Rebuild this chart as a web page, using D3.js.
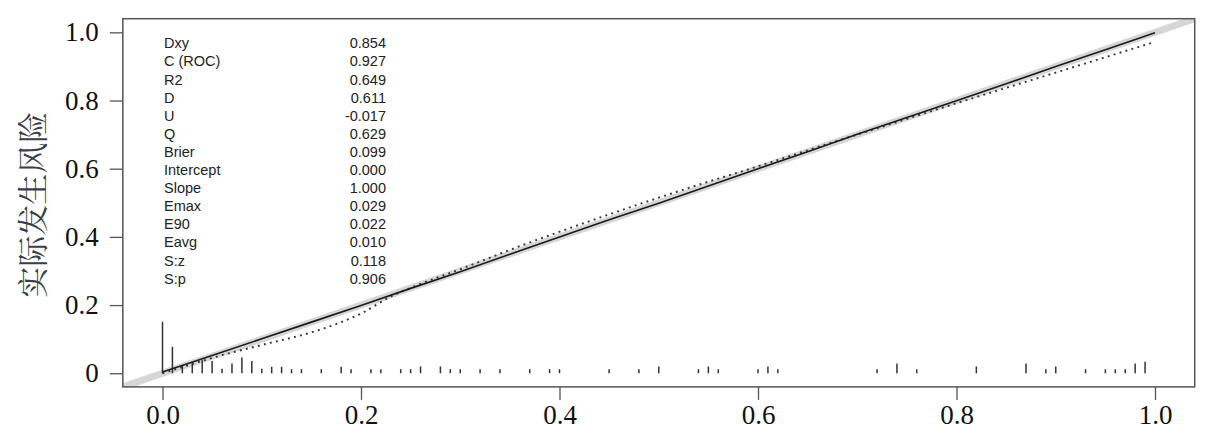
<!DOCTYPE html>
<html><head><meta charset="utf-8">
<script src="https://cdn.jsdelivr.net/npm/d3@7"></script>
<style>html,body{margin:0;padding:0;background:#fff;}</style>
</head><body>
<svg id="chart" width="1211" height="448"></svg>
<script>
// ---- data ----
const xTicks = [0, 0.2, 0.4, 0.6, 0.8, 1.0];
const xTickLabels = ["0.0", "0.2", "0.4", "0.6", "0.8", "1.0"];
const yTicks = [0, 0.2, 0.4, 0.6, 0.8, 1.0];
const yTickLabels = ["0", "0.2", "0.4", "0.6", "0.8", "1.0"];
const yLabel = "实际发生风险";

const idealX = [-0.04, 1.04];
const idealY = [-0.04, 1.04];

const biasX = [0, 0.05, 0.1, 0.15, 0.2, 0.25, 0.3, 0.35, 0.4, 0.45, 0.5, 0.55, 0.6, 0.65, 0.7, 0.75, 0.8, 0.85, 0.9, 0.95, 1.0];
const biasY = [0.004, 0.052, 0.101, 0.150, 0.199, 0.249, 0.298, 0.349, 0.400, 0.450, 0.499, 0.549, 0.600, 0.650, 0.701, 0.750, 0.799, 0.849, 0.900, 0.949, 0.999];

const apparentX = [0, 0.02, 0.05, 0.1, 0.15, 0.18, 0.2, 0.23, 0.26, 0.3, 0.35, 0.4, 0.45, 0.5, 0.55, 0.6, 0.65, 0.7, 0.75, 0.8, 0.85, 0.9, 0.95, 1.0];
const apparentY = [0, 0.018, 0.045, 0.083, 0.12, 0.15, 0.175, 0.225, 0.262, 0.305, 0.362, 0.415, 0.466, 0.515, 0.562, 0.607, 0.654, 0.700, 0.746, 0.792, 0.837, 0.882, 0.927, 0.972];

const rugX = [0.00, 0.01, 0.02, 0.03, 0.04, 0.05, 0.06, 0.07, 0.08, 0.09, 0.10, 0.11, 0.12, 0.13, 0.14, 0.16, 0.18, 0.19, 0.21, 0.22, 0.24, 0.25, 0.26, 0.28, 0.29, 0.30, 0.32, 0.34, 0.37, 0.39, 0.40, 0.45, 0.48, 0.50, 0.54, 0.55, 0.56, 0.60, 0.61, 0.62, 0.72, 0.74, 0.76, 0.82, 0.87, 0.89, 0.90, 0.93, 0.95, 0.96, 0.97, 0.98, 0.99];
const rugH = [0.151, 0.078, 0.024, 0.034, 0.039, 0.036, 0.013, 0.029, 0.046, 0.036, 0.013, 0.019, 0.019, 0.012, 0.012, 0.012, 0.019, 0.012, 0.012, 0.012, 0.012, 0.012, 0.020, 0.020, 0.012, 0.012, 0.012, 0.012, 0.012, 0.012, 0.012, 0.012, 0.012, 0.020, 0.012, 0.020, 0.012, 0.012, 0.020, 0.012, 0.012, 0.029, 0.012, 0.020, 0.029, 0.012, 0.020, 0.012, 0.012, 0.012, 0.012, 0.029, 0.034];

const statNames = ["Dxy", "C (ROC)", "R2", "D", "U", "Q", "Brier", "Intercept", "Slope", "Emax", "E90", "Eavg", "S:z", "S:p"];
const statValues = ["0.854", "0.927", "0.649", "0.611", "-0.017", "0.629", "0.099", "0.000", "1.000", "0.029", "0.022", "0.010", "0.118", "0.906"];

// ---- drawing ----
(function () {
const svg = d3.select("#chart");
const pl = 122.8, pr = 1194.7, pt = 18.7, pb = 386.9;
const x = d3.scaleLinear().domain([-0.04, 1.04]).range([pl, pr]);
const y = d3.scaleLinear().domain([-0.04, 1.04]).range([pb, pt]);

svg.append("defs").append("clipPath").attr("id", "clip")
  .append("rect").attr("x", pl).attr("y", pt).attr("width", pr - pl).attr("height", pb - pt);

const plot = svg.append("g").attr("clip-path", "url(#clip)");

// ideal line
plot.append("line")
  .attr("x1", x(idealX[0])).attr("y1", y(idealY[0]))
  .attr("x2", x(idealX[1])).attr("y2", y(idealY[1]))
  .attr("stroke", "#d6d6d6").attr("stroke-width", 7);

// rug / histogram spikes
plot.selectAll("line.rug").data(rugX).enter().append("line")
  .attr("class", "rug")
  .attr("x1", d => x(d)).attr("x2", d => x(d))
  .attr("y1", y(0)).attr("y2", (d, i) => y(rugH[i]))
  .attr("stroke", "#333").attr("stroke-width", 1.5);

// apparent (dotted)
const lineGen = d3.line().x(d => x(d[0])).y(d => y(d[1])).curve(d3.curveMonotoneX);
plot.append("path")
  .datum(apparentX.map((v, i) => [v, apparentY[i]]))
  .attr("d", lineGen)
  .attr("fill", "none").attr("stroke", "#333").attr("stroke-width", 1.9)
  .attr("stroke-dasharray", "1.9,4.3");

// bias-corrected (solid)
plot.append("path")
  .datum(biasX.map((v, i) => [v, biasY[i]]))
  .attr("d", d3.line().x(d => x(d[0])).y(d => y(d[1])))
  .attr("fill", "none").attr("stroke", "#1a1a1a").attr("stroke-width", 1.6);

// box
svg.append("rect").attr("x", pl).attr("y", pt).attr("width", pr - pl).attr("height", pb - pt)
  .attr("fill", "none").attr("stroke", "#555").attr("stroke-width", 1.5);

// x axis
const xAxis = d3.axisBottom(x).tickValues(xTicks).tickSize(13).tickPadding(5)
  .tickFormat((d, i) => xTickLabels[i]);
const gx = svg.append("g").attr("transform", `translate(0,${pb})`).call(xAxis);
gx.select(".domain").remove();
gx.selectAll(".tick line").attr("stroke", "#555").attr("stroke-width", 1.3);
gx.selectAll(".tick text").attr("font-family", "'Liberation Serif', 'Times New Roman', serif")
  .attr("font-size", 27).attr("fill", "#111");

// y axis
const yAxis = d3.axisLeft(y).tickValues(yTicks).tickSize(13).tickPadding(11)
  .tickFormat((d, i) => yTickLabels[i]);
const gy = svg.append("g").attr("transform", `translate(${pl},0)`).call(yAxis);
gy.select(".domain").remove();
gy.selectAll(".tick line").attr("stroke", "#555").attr("stroke-width", 1.3);
gy.selectAll(".tick text").attr("font-family", "'Liberation Serif', 'Times New Roman', serif")
  .attr("font-size", 27).attr("fill", "#111");

// y label
svg.append("text")
  .attr("transform", `translate(44,${(pt + pb) / 2 + 2}) rotate(-90)`)
  .attr("text-anchor", "middle")
  .attr("font-family", "'Noto Serif CJK SC', 'Noto Sans CJK SC', serif")
  .attr("font-size", 31).attr("fill", "#3a3f4a")
  .text(yLabel);

// stats
const stats = svg.append("g").attr("font-family", "'Liberation Sans', Arial, sans-serif")
  .attr("font-size", 14.5).attr("fill", "#222");
statNames.forEach((n, i) => {
  const by = 48.3 + i * 18.1;
  stats.append("text").attr("x", 164).attr("y", by).text(n);
  stats.append("text").attr("x", 386).attr("y", by).attr("text-anchor", "end").text(statValues[i]);
});
})();
</script>
</body></html>
